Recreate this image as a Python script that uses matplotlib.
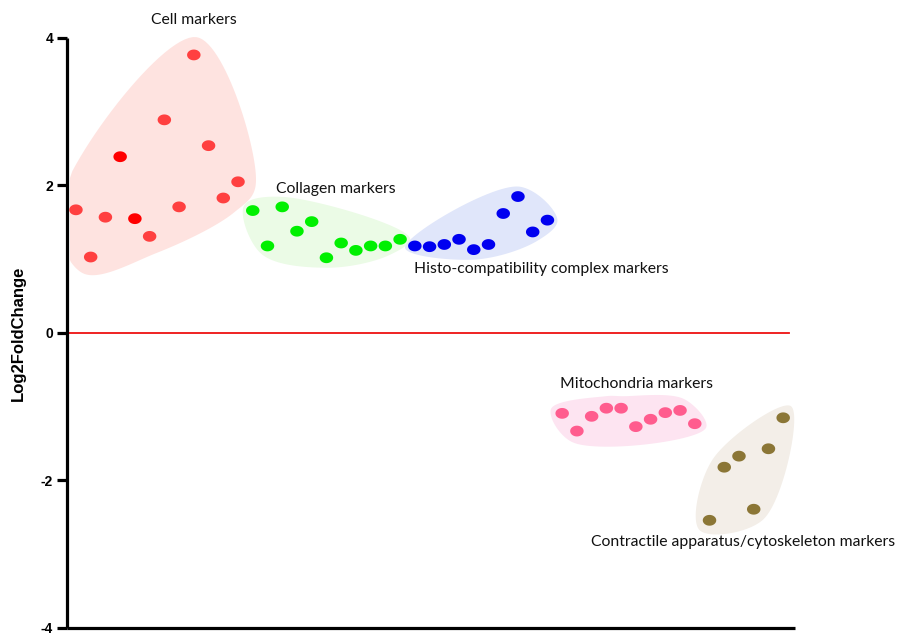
import numpy as np
import matplotlib
matplotlib.use("Agg")
import matplotlib.pyplot as plt
from matplotlib.path import Path
from matplotlib.patches import Polygon

# Log2 fold change per gene, grouped by marker class (genes plotted left to right)
cell_values = [1.67, 1.03, 1.57, 2.39, 1.55, 1.31, 2.89, 1.71, 3.77, 2.54, 1.83, 2.05]
cell_highlight = [3, 4]  # entries drawn in pure red
collagen_values = [1.66, 1.18, 1.71, 1.38, 1.51, 1.02, 1.22, 1.12, 1.18, 1.18, 1.27]
histo_values = [1.18, 1.17, 1.20, 1.27, 1.13, 1.20, 1.62, 1.85, 1.37, 1.53]
mito_values = [-1.09, -1.33, -1.13, -1.02, -1.02, -1.27, -1.17, -1.08, -1.05, -1.23]
contractile_values = [-2.54, -1.82, -1.67, -2.39, -1.57, -1.15]

group_names = ["Cell markers", "Collagen markers", "Histo-compatibility complex markers",
               "Mitochondria markers", "Contractile apparatus/cytoskeleton markers"]
group_values = [cell_values, collagen_values, histo_values, mito_values, contractile_values]
point_colors = ["#ff4040", "#00f000", "#0000f0", "#ff5c8e", "#8b7636"]
blob_colors = ["#fee3e0", "#ebfbe6", "#e0e6fa", "#fde4f1", "#f3eee8"]
blob_pad_px = [18, 10, 10, 12, 14]
label_pos = [(8.0, 4.24, "center"), (13.57, 1.95, "left"), (22.94, 0.87, "left"),
             (32.85, -0.69, "left"), (34.95, -2.83, "left")]

yticks = [-4, -2, 0, 2, 4]

fig = plt.figure(figsize=(9, 6.34), dpi=100)
ax = fig.add_axes([0.0744, 0.0095, 0.8089, 0.9306])
ax.set_xlim(-0.61, 48.8)
ax.set_ylim(-4, 4)

# ellipse-shaped marker
t = np.linspace(0, 2 * np.pi, 41)
ell = Path(np.column_stack([np.cos(t), 0.8 * np.sin(t)]), closed=True)


def convex_hull(pts):
    pts = sorted(map(tuple, pts))
    def cross(o, a, b):
        return (a[0] - o[0]) * (b[1] - o[1]) - (a[1] - o[1]) * (b[0] - o[0])
    lower, upper = [], []
    for p in pts:
        while len(lower) >= 2 and cross(lower[-2], lower[-1], p) <= 0:
            lower.pop()
        lower.append(p)
    for p in reversed(pts):
        while len(upper) >= 2 and cross(upper[-2], upper[-1], p) <= 0:
            upper.pop()
        upper.append(p)
    return np.array(lower[:-1] + upper[:-1])


def offset_vertices(poly, pad, min_gap=14.0):
    # drop vertices that sit too close to the previous one
    keep = [poly[0]]
    for p in poly[1:]:
        if np.hypot(*(p - keep[-1])) >= min_gap:
            keep.append(p)
    if len(keep) > 2 and np.hypot(*(keep[0] - keep[-1])) < min_gap:
        keep.pop()
    poly = np.array(keep)
    n = len(poly)
    out = []
    for i in range(n):
        prev_pt, cur, nxt = poly[i - 1], poly[i], poly[(i + 1) % n]
        e1 = cur - prev_pt
        e2 = nxt - cur
        n1 = np.array([e1[1], -e1[0]]) / np.hypot(*e1)
        n2 = np.array([e2[1], -e2[0]]) / np.hypot(*e2)
        b = n1 + n2
        b /= np.hypot(*b)
        out.append(cur + b * pad)
    return np.array(out)


def closed_catmull_rom(ctrl, samples=30, alpha=0.5):
    n = len(ctrl)
    curve = []
    for i in range(n):
        p0, p1, p2, p3 = ctrl[i - 1], ctrl[i], ctrl[(i + 1) % n], ctrl[(i + 2) % n]
        t0 = 0.0
        t1 = t0 + np.hypot(*(p1 - p0)) ** alpha
        t2 = t1 + np.hypot(*(p2 - p1)) ** alpha
        t3 = t2 + np.hypot(*(p3 - p2)) ** alpha
        for tt in np.linspace(t1, t2, samples, endpoint=False):
            a1 = (t1 - tt) / (t1 - t0) * p0 + (tt - t0) / (t1 - t0) * p1
            a2 = (t2 - tt) / (t2 - t1) * p1 + (tt - t1) / (t2 - t1) * p2
            a3 = (t3 - tt) / (t3 - t2) * p2 + (tt - t2) / (t3 - t2) * p3
            b1 = (t2 - tt) / (t2 - t0) * a1 + (tt - t0) / (t2 - t0) * a2
            b2 = (t3 - tt) / (t3 - t1) * a2 + (tt - t1) / (t3 - t1) * a3
            curve.append((t2 - tt) / (t2 - t1) * b1 + (tt - t1) / (t2 - t1) * b2)
    return np.array(curve)


start = 0
for name, vals, pc, bc, pad, (lx, ly, ha) in zip(group_names, group_values, point_colors,
                                                  blob_colors, blob_pad_px, label_pos):
    x = np.arange(start, start + len(vals))
    y = np.asarray(vals, dtype=float)
    start += len(vals)

    # smooth blob around the group, built in screen pixels
    disp = ax.transData.transform(np.column_stack([x, y]))
    hull = convex_hull(disp)
    ctrl = offset_vertices(hull, pad)
    outline = closed_catmull_rom(ctrl)
    # keep the blob just right of the y axis line
    outline[:, 0] = np.maximum(outline[:, 0], ax.transData.transform((-0.61, 0))[0] + 3)
    outline_data = ax.transData.inverted().transform(outline)
    ax.add_patch(Polygon(outline_data, closed=True, facecolor=bc, edgecolor="none",
                         zorder=1, clip_on=False))

    colors = [pc] * len(vals)
    if name == "Cell markers":
        for i in cell_highlight:
            colors[i] = "#ff0000"
    ax.scatter(x, y, marker=ell, s=13.5 ** 2 * 0.72 ** 2, c=colors, linewidths=0, zorder=3)

    ax.text(lx, ly, name, ha=ha, va="center", fontsize=11.3, family="Lato",
            color="#111111", zorder=4, clip_on=False)

ax.axhline(0, xmin=0, xmax=0.992, color="#ee1111", lw=1.3, zorder=2)

for side in ["top", "right"]:
    ax.spines[side].set_visible(False)
for side in ["left", "bottom"]:
    ax.spines[side].set_linewidth(2.3)
    ax.spines[side].set_capstyle("butt")

ax.set_xticks([])
ax.set_yticks(yticks)
ax.set_yticklabels([str(v) for v in yticks], fontsize=10, fontweight="bold",
                   family="Liberation Sans")
ax.tick_params(axis="y", length=7.5, width=2.3, pad=2.5)
ax.set_ylabel("Log2FoldChange", fontsize=12, fontweight="bold", family="Liberation Sans")
ax.yaxis.set_label_coords(-0.056, 0.5)

fig.savefig("out.png", dpi=100)
